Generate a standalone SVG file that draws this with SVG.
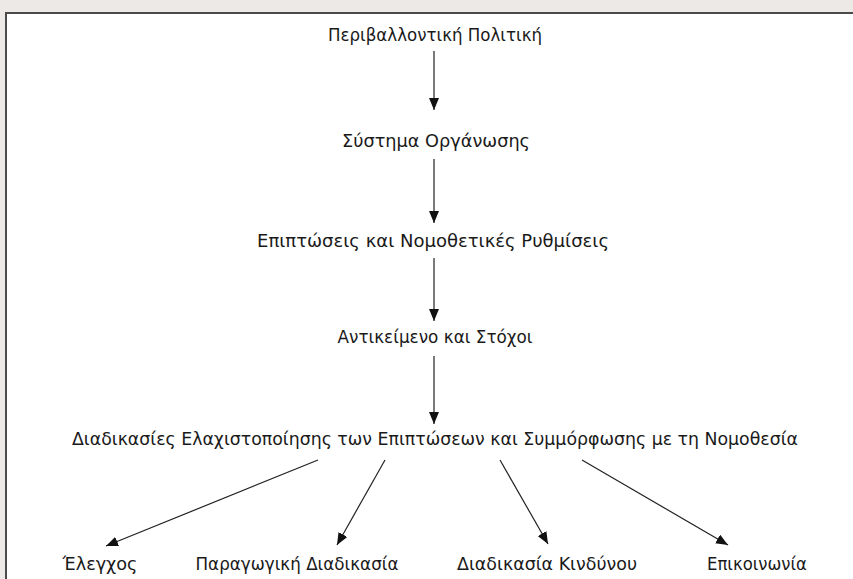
<svg xmlns="http://www.w3.org/2000/svg" width="853" height="579" viewBox="0 0 853 579">
<style>
.bg{fill:#ece9e6}
.frame{fill:#ffffff}
.border{stroke:#4a4a4a;stroke-width:2;fill:none}
.lbl{font-family:"DejaVu Sans","Liberation Sans",sans-serif;font-size:17px;fill:#1a1a1a;text-anchor:middle}
.edge{stroke:#222;stroke-width:1.2;fill:none;marker-end:url(#ah)}
</style>
<defs>
<marker id="ah" viewBox="0 0 12 10" refX="12" refY="5" markerWidth="12" markerHeight="10" markerUnits="userSpaceOnUse" orient="auto">
<path d="M0,0 L12,5 L0,10 z" fill="#111"/>
</marker>
</defs>
<rect class="bg" x="0" y="0" width="853" height="579"/>
<rect class="frame" x="6" y="13" width="847" height="566"/>
<path class="border" d="M6,579 L6,13 L853,13"/>
<g id="n1"><text class="lbl" x="435" y="41" textLength="214" lengthAdjust="spacingAndGlyphs">Περιβαλλοντική Πολιτική</text></g>
<g id="n2"><text class="lbl" x="436" y="147" textLength="188" lengthAdjust="spacingAndGlyphs">Σύστημα Οργάνωσης</text></g>
<g id="n3"><text class="lbl" x="433" y="247" textLength="352" lengthAdjust="spacingAndGlyphs">Επιπτώσεις και Νομοθετικές Ρυθμίσεις</text></g>
<g id="n4"><text class="lbl" x="435" y="343" textLength="195" lengthAdjust="spacingAndGlyphs">Αντικείμενο και Στόχοι</text></g>
<g id="n5"><text class="lbl" x="435" y="445" textLength="726" lengthAdjust="spacingAndGlyphs">Διαδικασίες Ελαχιστοποίησης των Επιπτώσεων και Συμμόρφωσης με τη Νομοθεσία</text></g>
<g id="n6"><text class="lbl" x="100" y="570" textLength="75" lengthAdjust="spacingAndGlyphs">Έλεγχος</text></g>
<g id="n7"><text class="lbl" x="297" y="570" textLength="203" lengthAdjust="spacingAndGlyphs">Παραγωγική Διαδικασία</text></g>
<g id="n8"><text class="lbl" x="547" y="570" textLength="180" lengthAdjust="spacingAndGlyphs">Διαδικασία Κινδύνου</text></g>
<g id="n9"><text class="lbl" x="757" y="570" textLength="100" lengthAdjust="spacingAndGlyphs">Επικοινωνία</text></g>
<g id="connectors">
<line class="edge" x1="434" y1="51" x2="434" y2="110"/>
<line class="edge" x1="434" y1="159" x2="434" y2="223"/>
<line class="edge" x1="434" y1="258" x2="434" y2="321"/>
<line class="edge" x1="434" y1="356" x2="434" y2="424"/>
<line class="edge" x1="318" y1="460" x2="106" y2="546"/>
<line class="edge" x1="385" y1="460" x2="337" y2="545"/>
<line class="edge" x1="500" y1="460" x2="548" y2="544"/>
<line class="edge" x1="582" y1="460" x2="728" y2="545"/>
</g>
</svg>
